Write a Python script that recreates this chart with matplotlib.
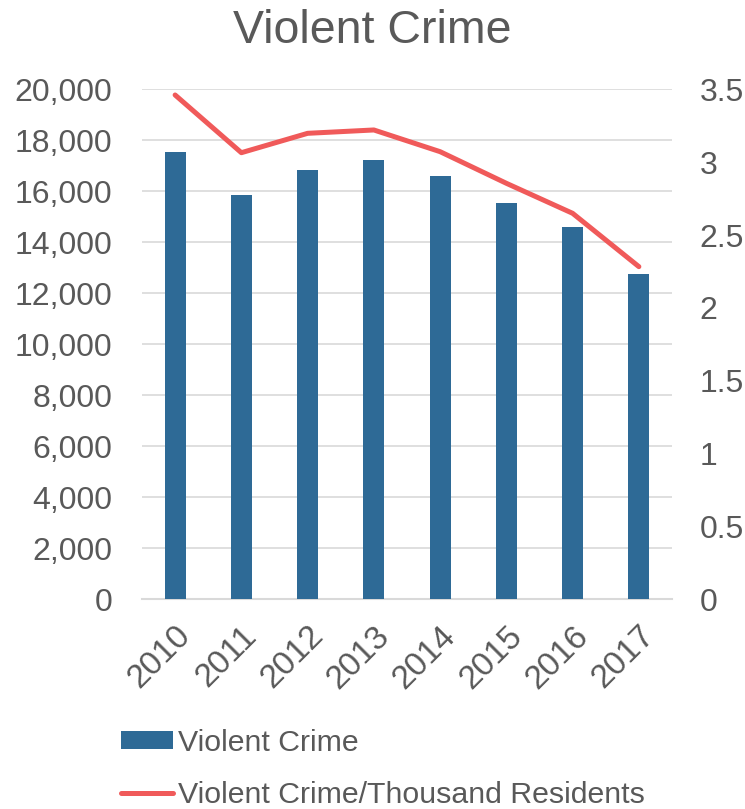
import matplotlib
matplotlib.use("Agg")
import matplotlib.pyplot as plt
from matplotlib.ticker import FuncFormatter
import matplotlib.transforms as mtransforms
import numpy as np

years = ["2010", "2011", "2012", "2013", "2014", "2015", "2016", "2017"]
violent_crime = [17540, 15840, 16850, 17230, 16600, 15540, 14610, 12750]
rate_per_thousand = [3.461, 3.065, 3.198, 3.221, 3.072, 2.855, 2.649, 2.283]

plt.rcParams['font.family'] = ['Liberation Sans', 'DejaVu Sans']
TXT = '#595959'
BAR = '#2E6A96'
LINE = '#F05A5A'

fig = plt.figure(figsize=(7.45, 8.09), dpi=100)
ax = fig.add_axes([0.1906, 0.2592, 0.7114, 0.6304])
ax2 = ax.twinx()

x = np.arange(len(years))
bars = ax.bar(x, violent_crime, width=0.32, color=BAR, zorder=3, label='Violent Crime')
ax.set_ylim(0, 20000)
ax.set_yticks(np.arange(0, 20001, 2000))
ax.yaxis.set_major_formatter(FuncFormatter(lambda v, p: f"{int(v):,}"))
ax.set_xlim(-0.5, len(years) - 0.5)
ax.grid(axis='y', color='#D9D9D9', linewidth=1.2, zorder=0)
ax.set_axisbelow(True)
ax.set_xticks(x)
ax.set_xticklabels(years, rotation=45, ha='right', rotation_mode='anchor', fontsize=24)
offset = mtransforms.ScaledTranslation(-8 / 100, 0, fig.dpi_scale_trans)
for lbl in ax.get_xticklabels():
    lbl.set_transform(lbl.get_transform() + offset)

line, = ax2.plot(x, rate_per_thousand, color=LINE, linewidth=3.6, zorder=4,
                 label='Violent Crime/Thousand Residents', solid_capstyle='round')
ax2.set_ylim(0, 3.5)
ax2.set_yticks([0, 0.5, 1, 1.5, 2, 2.5, 3, 3.5])
ax2.yaxis.set_major_formatter(FuncFormatter(lambda v, p: f"{v:g}"))

for a in (ax, ax2):
    for s in a.spines.values():
        s.set_visible(False)
    a.tick_params(length=0, colors=TXT)
ax.tick_params(axis='y', pad=21.5, labelsize=23)
ax2.tick_params(axis='y', pad=20, labelsize=23)
ax.tick_params(axis='x', pad=15)
ax.spines['bottom'].set_visible(True)
ax.spines['bottom'].set_color('#D9D9D9')
ax.spines['bottom'].set_linewidth(1.5)

fig.text(0.5, 0.962, 'Violent Crime', ha='center', va='center', fontsize=33.5, color=TXT)

fig.legend(handles=[bars, line], labels=['Violent Crime', 'Violent Crime/Thousand Residents'],
           loc='upper left', bbox_to_anchor=(0.162, 0.099), frameon=False,
           fontsize=21.8, labelcolor=TXT, handlelength=1.72, handleheight=0.53,
           handletextpad=0.16, labelspacing=0.8, borderaxespad=0, borderpad=0)

fig.savefig('out.png', dpi=100)
